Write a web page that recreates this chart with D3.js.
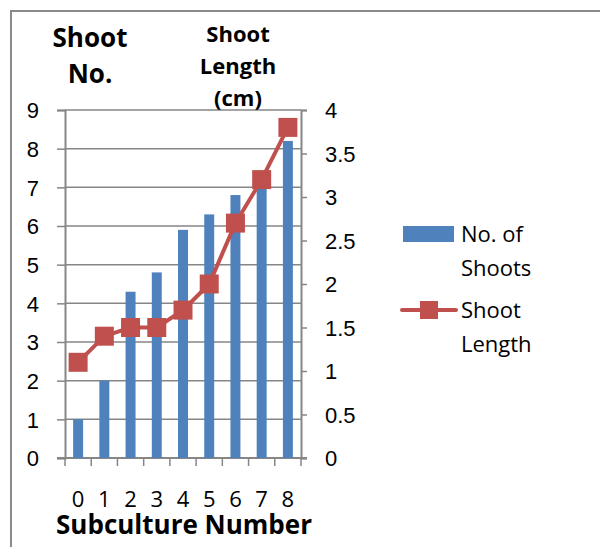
<!DOCTYPE html>
<html>
<head>
<meta charset="utf-8">
<script src="https://cdn.jsdelivr.net/npm/d3@7/dist/d3.min.js"></script>
<style>
  html, body { margin: 0; padding: 0; background: #fff; }
  svg { display: block; font-family: "Open Sans", "Noto Sans", sans-serif; }
</style>
</head>
<body>
<svg id="chart" width="600" height="547"></svg>
<script>
// Subculture data
const subcultures = [0, 1, 2, 3, 4, 5, 6, 7, 8];
const shootCounts = [1, 2, 4.3, 4.8, 5.9, 6.3, 6.8, 7.1, 8.2];
const shootLengths = [1.1, 1.4, 1.5, 1.5, 1.7, 2.0, 2.7, 3.2, 3.8];
const leftTicks = [0, 1, 2, 3, 4, 5, 6, 7, 8, 9];
const rightTicks = [0, 0.5, 1, 1.5, 2, 2.5, 3, 3.5, 4];

const barColor = "#4f81bd";
const lineColor = "#c0504d";
const axisColor = "#868686";

const svg = d3.select("#chart");

// outer frame
svg.append("rect")
  .attr("x", 11).attr("y", 11).attr("width", 620).attr("height", 620)
  .attr("fill", "none").attr("stroke", "#8a8a8a").attr("stroke-width", 2);

const plot = { left: 65, right: 301, top: 110, bottom: 458 };

const x = d3.scaleBand().domain(subcultures).range([plot.left, plot.right]).padding(0);
const yL = d3.scaleLinear().domain([0, 9]).range([plot.bottom, plot.top]);
const yR = d3.scaleLinear().domain([0, 4]).range([plot.bottom, plot.top]);

// horizontal gridlines
svg.append("g").selectAll("line").data(leftTicks).join("line")
  .attr("x1", plot.left).attr("x2", plot.right)
  .attr("y1", d => yL(d)).attr("y2", d => yL(d))
  .attr("stroke", axisColor).attr("stroke-width", 1.5);

// left axis
const leftAxis = svg.append("g").attr("transform", `translate(${plot.left},0)`)
  .call(d3.axisLeft(yL).tickValues(leftTicks).tickSize(8).tickPadding(18).tickFormat(d3.format("d")));
leftAxis.select(".domain").attr("stroke", axisColor).attr("stroke-width", 2);
leftAxis.selectAll(".tick line").attr("stroke", axisColor).attr("stroke-width", 1.5);
leftAxis.selectAll("text").attr("font-size", 22).attr("fill", "#000").attr("dy", "0.36em");

// right axis
const rightAxis = svg.append("g").attr("transform", `translate(${plot.right},0)`)
  .call(d3.axisRight(yR).tickValues(rightTicks).tickSize(6).tickPadding(18).tickFormat(d => String(d)));
rightAxis.select(".domain").attr("stroke", axisColor).attr("stroke-width", 2);
rightAxis.selectAll(".tick line").attr("stroke", axisColor).attr("stroke-width", 1.5);
rightAxis.selectAll("text").attr("font-size", 22).attr("fill", "#000").attr("dy", "0.36em");

// bottom axis: ticks at category boundaries
const bounds = subcultures.map(d => x(d)).concat([plot.right]);
svg.append("line")
  .attr("x1", plot.left - 8).attr("x2", plot.right + 6)
  .attr("y1", plot.bottom).attr("y2", plot.bottom)
  .attr("stroke", axisColor).attr("stroke-width", 2);
svg.append("g").selectAll("line").data(bounds).join("line")
  .attr("x1", d => d).attr("x2", d => d)
  .attr("y1", plot.bottom).attr("y2", plot.bottom + 8)
  .attr("stroke", axisColor).attr("stroke-width", 1.5);
svg.append("g").selectAll("text").data(subcultures).join("text")
  .attr("x", d => x(d) + x.bandwidth() / 2)
  .attr("y", 507)
  .attr("text-anchor", "middle").attr("font-size", 22).attr("fill", "#000")
  .text(d => d);

// bars
const barW = x.bandwidth() * 0.38;
svg.append("g").selectAll("rect").data(subcultures).join("rect")
  .attr("x", (d) => x(d) + (x.bandwidth() - barW) / 2)
  .attr("width", barW)
  .attr("y", (d, i) => yL(shootCounts[i]))
  .attr("height", (d, i) => plot.bottom - yL(shootCounts[i]))
  .attr("fill", barColor);

// shoot length line
const lineGen = d3.line()
  .x((d, i) => x(subcultures[i]) + x.bandwidth() / 2)
  .y(d => yR(d));
svg.append("path").datum(shootLengths)
  .attr("d", lineGen).attr("fill", "none")
  .attr("stroke", lineColor).attr("stroke-width", 4);
const mk = 19;
svg.append("g").selectAll("rect").data(shootLengths).join("rect")
  .attr("x", (d, i) => x(subcultures[i]) + x.bandwidth() / 2 - mk / 2)
  .attr("y", d => yR(d) - mk / 2)
  .attr("width", mk).attr("height", mk)
  .attr("fill", lineColor);

// axis titles
const titleL = svg.append("text").attr("text-anchor", "middle")
  .attr("font-size", 26).attr("font-weight", "bold").attr("fill", "#000");
titleL.append("tspan").attr("x", 90).attr("y", 47).text("Shoot");
titleL.append("tspan").attr("x", 90).attr("y", 83).text("No.");

const titleR = svg.append("text").attr("text-anchor", "middle")
  .attr("font-size", 22).attr("font-weight", "bold").attr("fill", "#000");
titleR.append("tspan").attr("x", 238).attr("y", 42).text("Shoot");
titleR.append("tspan").attr("x", 238).attr("y", 74).text("Length");
titleR.append("tspan").attr("x", 238).attr("y", 106).text("(cm)");

svg.append("text").attr("x", 184).attr("y", 534).attr("text-anchor", "middle")
  .attr("font-size", 26).attr("font-weight", "bold").attr("fill", "#000")
  .text("Subculture Number");

// legend
const lg = svg.append("g");
lg.append("rect").attr("x", 403).attr("y", 226).attr("width", 51).attr("height", 16).attr("fill", barColor);
const l1 = lg.append("text").attr("font-size", 22).attr("fill", "#000");
l1.append("tspan").attr("x", 461).attr("y", 242).text("No. of");
l1.append("tspan").attr("x", 461).attr("y", 276).text("Shoots");
lg.append("line").attr("x1", 402).attr("x2", 456).attr("y1", 310).attr("y2", 310)
  .attr("stroke", lineColor).attr("stroke-width", 4).attr("stroke-linecap", "round");
lg.append("rect").attr("x", 420).attr("y", 301).attr("width", 18).attr("height", 18).attr("fill", lineColor);
const l2 = lg.append("text").attr("font-size", 22).attr("fill", "#000");
l2.append("tspan").attr("x", 461).attr("y", 318).text("Shoot");
l2.append("tspan").attr("x", 461).attr("y", 352).text("Length");
</script>
</body>
</html>
